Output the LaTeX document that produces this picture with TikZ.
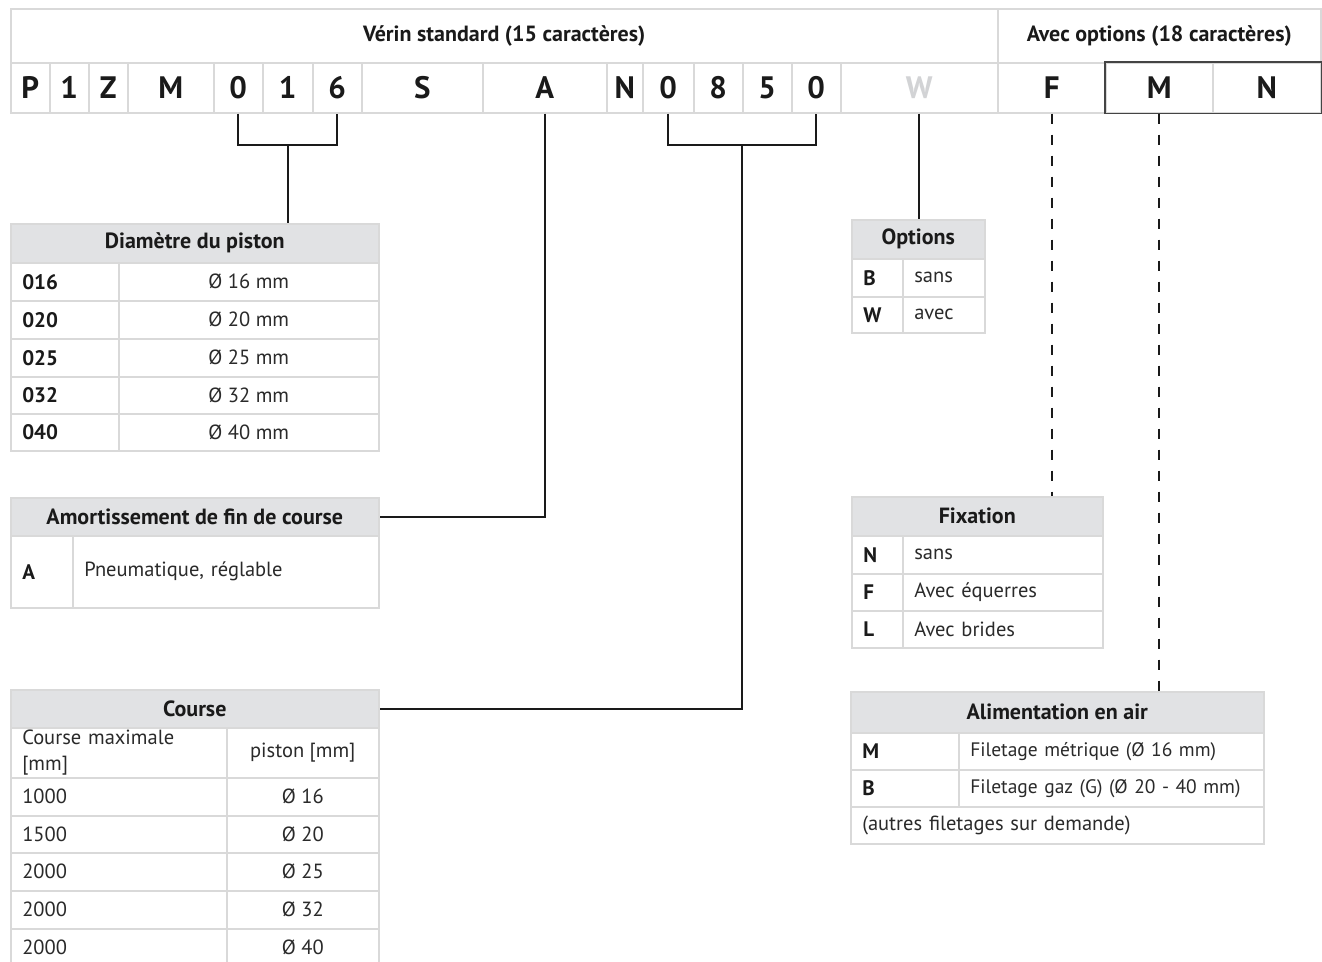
\documentclass[tikz,border=0pt]{standalone}
\usepackage{fontspec}
\setmainfont{PT Sans}
\usetikzlibrary{calc}
\definecolor{gridc}{HTML}{D9D9D9}
\definecolor{headc}{HTML}{E1E2E4}
\definecolor{ink}{HTML}{1A1A1A}
\definecolor{body}{HTML}{2A2A2A}
\definecolor{wgray}{HTML}{D2D3D5}
\definecolor{mnbox}{HTML}{444444}
\newcommand\cellxy[7][]{%
  \pgfmathsetmacro\cw{#5-#3}\pgfmathsetmacro\ch{#6-#4}\pgfmathsetmacro\tw{#5-#3-23}%
  \node[cell,minimum width=\cw pt,minimum height=\ch pt,anchor=north west,#1] (#2) at (#3,#4) {#7};}
\begin{document}
\begin{tikzpicture}[x=1pt,y=-1pt,
  cell/.style={draw=gridc,line width=1.5pt,fill=white,text=body,inner sep=0pt,
    font=\fontsize{20.5}{25.5}\selectfont},
  head/.style={fill=headc,text=ink,font=\bfseries\fontsize{22}{26}\selectfont},
  bhead/.style={text=ink,font=\bfseries\fontsize{22}{26}\selectfont},
  code/.style={text=ink,font=\bfseries\fontsize{31}{34}\selectfont},
  key/.style={text=ink,font=\bfseries\fontsize{21}{25}\selectfont},
  small/.style={font=\fontsize{19.5}{24}\selectfont},
  L/.style={text width=\tw pt,align=left,inner xsep=11.5pt},
  conn/.style={draw=ink,line width=2pt},
  dconn/.style={conn,dash pattern=on 10pt off 11pt}]
\clip (0,0) rectangle (1322,961);
\fill[white] (0,0) rectangle (1322,961);
% top bar
\cellxy[bhead]{hstd}{10}{8}{997}{62}{Vérin standard (15 caractères)}
\cellxy[bhead]{hopt}{997}{8}{1320}{62}{Avec options (18 caractères)}
\foreach \i/\a/\b/\t in {1/10/49/P,2/49/88/1,3/88/127/Z,4/127/213/M,5/213/262/0,6/262/312/1,
  7/312/361/6,8/361/482/S,9/482/606/A,10/606/642/N,11/642/693/0,12/693/742/8,13/742/791/5,
  14/791/840/0,16/997/1105/F,17/1105/1212/M,18/1212/1320/N}
  {\cellxy[code]{c\i}{\a}{62}{\b}{112}{\t}}
\cellxy[code,text=wgray]{c15}{840}{62}{997}{112}{W}
\draw[draw=mnbox,line width=1.5pt] (c17.north west) rectangle (c18.south east);
% Diametre du piston
\cellxy[head]{dia0}{10}{223}{378}{262}{Diamètre du piston}
\foreach \i/\a/\b/\k/\v in {1/262/300/016/16,2/300/338/020/20,3/338/376/025/25,4/376/413/032/32,5/413/450/040/40}{
  \cellxy[key,L]{dia\i k}{10}{\a}{118}{\b}{\k}
  \cellxy{dia\i v}{118}{\a}{378}{\b}{Ø \v\ mm}}
% Amortissement
\cellxy[head]{amor0}{10}{497}{378}{535}{Amortissement de fin de course}
\cellxy[key,L]{amor1k}{10}{535}{72}{607}{A}
\cellxy[L]{amor1v}{72}{535}{378}{607}{Pneumatique, réglable}
% Course
\cellxy[head]{course0}{10}{689}{378}{727}{Course}
\cellxy[L]{course1k}{10}{727}{226}{777}{Course maximale\\{}{[mm]}}
\cellxy{course1v}{226}{727}{378}{777}{piston [mm]}
\foreach \i/\a/\b/\k/\v in {2/777/815/1000/16,3/815/852/1500/20,4/852/890/2000/25,5/890/928/2000/32,6/928/966/2000/40}{
  \cellxy[L]{course\i k}{10}{\a}{226}{\b}{\k}
  \cellxy{course\i v}{226}{\a}{378}{\b}{Ø \v}}
% Options
\cellxy[head]{opt0}{851}{219}{984}{258}{Options}
\cellxy[key,L]{opt1k}{851}{258}{902}{296}{B}
\cellxy[L]{opt1v}{902}{258}{984}{296}{sans}
\cellxy[key,L]{opt2k}{851}{296}{902}{332}{W}
\cellxy[L]{opt2v}{902}{296}{984}{332}{avec}
% Fixation
\cellxy[head]{fix0}{851}{496}{1102}{535}{Fixation}
\foreach \i/\a/\b/\k/\v in {1/535/573/N/sans,2/573/610/F/Avec équerres,3/610/647/L/Avec brides}{
  \cellxy[key,L]{fix\i k}{851}{\a}{902}{\b}{\k}
  \cellxy[L]{fix\i v}{902}{\a}{1102}{\b}{\v}}
% Alimentation
\cellxy[head]{alim0}{850}{691}{1263}{732}{Alimentation en air}
\cellxy[key,L]{alim1k}{850}{732}{958}{769}{M}
\cellxy[L,small]{alim1v}{958}{732}{1263}{769}{Filetage métrique (Ø 16 mm)}
\cellxy[key,L]{alim2k}{850}{769}{958}{806}{B}
\cellxy[L,small]{alim2v}{958}{769}{1263}{806}{Filetage gaz (G) (Ø 20 - 40 mm)}
\cellxy[L]{alim3}{850}{806}{1263}{843}{(autres filetages sur demande)}
% connectors
\draw[conn] (c5.south) -- ++(0,31) coordinate (b1) -| (c7.south);
\draw[conn] (c6.south |- b1) -- (c6.south |- dia0.north);
\draw[conn] (c9.south) |- (amor0.east);
\draw[conn] (c11.south) -- ++(0,31) coordinate (b2) -| (c14.south);
\coordinate (m2) at ($(c11.south)!0.5!(c14.south)$);
\draw[conn] (m2 |- b2) |- (course0.east);
\draw[conn] (c15.south) -- (c15.south |- opt0.north);
\draw[dconn] (c16.south) -- (c16.south |- fix0.north);
\draw[dconn] (c17.south) -- (c17.south |- alim0.north);
\end{tikzpicture}
\end{document}
